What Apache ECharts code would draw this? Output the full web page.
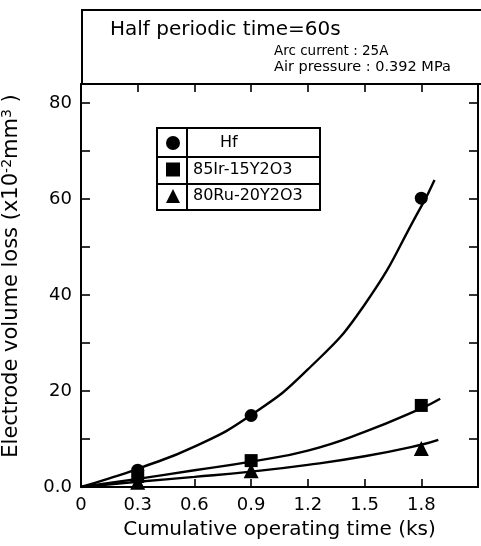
<!DOCTYPE html>
<html><head><meta charset="utf-8">
<script src="https://cdn.jsdelivr.net/npm/echarts@6/dist/echarts.min.js"></script>
<style>html,body{margin:0;padding:0;background:#fff}#c{width:481px;height:546px}</style>
</head><body><div id="c"></div>
<script>
// ---- data ----
const seriesNames = ['Hf', '85Ir-15Y2O3', '80Ru-20Y2O3'];
const pointX = [0.3, 0.9, 1.8];
const hfPoints = [3.5, 14.9, 60.2];
const irPoints = [2.2, 5.5, 17.0];
const ruPoints = [1.0, 3.4, 8.0];
const curveXHf = [0, 0.15, 0.3, 0.6, 0.9, 1.2, 1.5, 1.8, 1.87];
const curveYHf = [0, 1.8, 3.8, 8.4, 15, 24.5, 38, 58.5, 64];
const curveXIr = [0, 0.3, 0.6, 0.9, 1.2, 1.5, 1.8, 1.9];
const curveYIr = [0, 1.7, 3.5, 5.3, 7.6, 11.5, 16.4, 18.4];
const curveXRu = [0, 0.3, 0.6, 0.9, 1.2, 1.5, 1.8, 1.89];
const curveYRu = [0, 1.1, 2.1, 3.2, 4.6, 6.4, 8.8, 9.8];
const xTickLabels = ['0', '0.3', '0.6', '0.9', '1.2', '1.5', '1.8'];
const yTickLabels = ['0.0', '20', '40', '60', '80'];
const titleText = 'Half periodic time=60s';
const subText1 = 'Arc current : 25A';
const subText2 = 'Air pressure : 0.392 MPa';

const FONT = 'DejaVu Sans';
const zip = (xs, ys) => xs.map((x, i) => [x, ys[i]]);

const chart = echarts.init(document.getElementById('c'), null, {renderer: 'canvas'});
const axisLine = {show: true, onZero: false, lineStyle: {color: '#000', width: 2}};
const tickStyle = {color: '#000', width: 1.6};

const option = {
  backgroundColor: '#fff',
  animation: false,
  grid: {left: 81, right: 3, top: 84, bottom: 59, containLabel: false, outerBoundsMode: 'none'},
  xAxis: [{
    type: 'value', min: 0, max: 2.1, interval: 0.3, position: 'bottom',
    axisLine: axisLine,
    axisTick: {inside: true, length: 8, lineStyle: tickStyle},
    splitLine: {show: false},
    axisLabel: {
      margin: 9, color: '#000', fontFamily: FONT, fontSize: 18,
      formatter: v => { const i = Math.round(v / 0.3); return i < xTickLabels.length ? xTickLabels[i] : ''; }
    },
    name: 'Cumulative operating time (ks)', nameLocation: 'middle', nameGap: 33,
    nameTextStyle: {color: '#000', fontFamily: FONT, fontSize: 20}
  }, {
    type: 'value', min: 0, max: 2.1, interval: 0.3, position: 'top',
    axisLine: axisLine,
    axisTick: {inside: true, length: 8, lineStyle: tickStyle},
    axisLabel: {show: false}, splitLine: {show: false}
  }],
  yAxis: [{
    type: 'value', min: 0, max: 84, interval: 10, position: 'left',
    axisLine: axisLine,
    axisTick: {inside: true, length: 9, lineStyle: tickStyle},
    splitLine: {show: false},
    axisLabel: {
      margin: 9, color: '#000', fontFamily: FONT, fontSize: 18,
      formatter: v => (v % 20 === 0 && v / 20 < yTickLabels.length) ? yTickLabels[v / 20] : ''
    },
    name: 'Electrode volume loss (x10{sup|-2}mm{sup|3} )', nameLocation: 'middle', nameGap: 58,
    nameTextStyle: {
      color: '#000', fontFamily: FONT, fontSize: 21, padding: [0, 0, 0, 19],
      rich: {sup: {fontFamily: FONT, fontSize: 14, verticalAlign: 'top', padding: [0, 0, 9, 0], color: '#000'}}
    }
  }, {
    type: 'value', min: 0, max: 84, interval: 10, position: 'right',
    axisLine: axisLine,
    axisTick: {inside: true, length: 9, lineStyle: tickStyle},
    axisLabel: {show: false}, splitLine: {show: false}
  }],
  legend: {
    orient: 'vertical', left: 166, top: 133, padding: 0,
    itemWidth: 14, itemHeight: 14, itemGap: 6.5,
    textStyle: {color: '#000', fontFamily: FONT, fontSize: 16, lineHeight: 20, padding: [0, 0, 0, 8]},
    data: [
      {name: seriesNames[0], icon: 'circle', textStyle: {padding: [0, 0, 0, 35]}},
      {name: seriesNames[1], icon: 'rect'},
      {name: seriesNames[2], icon: 'triangle'}
    ]
  },
  graphic: [
    {type: 'rect', shape: {x: 82, y: 10, width: 402, height: 74}, style: {fill: 'none', stroke: '#000', lineWidth: 2}, z: 10},
    {type: 'text', x: 110, y: 30, style: {text: titleText, fontFamily: FONT, fontSize: 20, fill: '#000', textVerticalAlign: 'middle'}, z: 10},
    {type: 'text', x: 274, y: 51, style: {text: subText1, fontFamily: FONT, fontSize: 13.5, fill: '#000', textVerticalAlign: 'middle'}, z: 10},
    {type: 'text', x: 274, y: 67, style: {text: subText2, fontFamily: FONT, fontSize: 14.5, fill: '#000', textVerticalAlign: 'middle'}, z: 10},
    {type: 'rect', shape: {x: 157, y: 128, width: 163, height: 82}, style: {fill: 'none', stroke: '#000', lineWidth: 2}, z: 10},
    {type: 'line', shape: {x1: 157, y1: 157, x2: 320, y2: 157}, style: {stroke: '#000', lineWidth: 2}, z: 10},
    {type: 'line', shape: {x1: 157, y1: 184, x2: 320, y2: 184}, style: {stroke: '#000', lineWidth: 2}, z: 10},
    {type: 'line', shape: {x1: 187, y1: 128, x2: 187, y2: 210}, style: {stroke: '#000', lineWidth: 2}, z: 10}
  ],
  series: [
    {name: seriesNames[0], type: 'scatter', symbol: 'circle', symbolSize: 13, itemStyle: {color: '#000', opacity: 1}, data: zip(pointX, hfPoints), z: 5},
    {name: seriesNames[1], type: 'scatter', symbol: 'rect', symbolSize: 13, itemStyle: {color: '#000', opacity: 1}, data: zip(pointX, irPoints), z: 5},
    {name: seriesNames[2], type: 'scatter', symbol: 'triangle', symbolSize: 15, itemStyle: {color: '#000', opacity: 1}, data: zip(pointX, ruPoints), z: 5},
    {name: 'fitHf', type: 'line', smooth: 0.5, showSymbol: false, lineStyle: {color: '#000', width: 2.4}, data: zip(curveXHf, curveYHf), z: 4},
    {name: 'fitIr', type: 'line', smooth: 0.5, showSymbol: false, lineStyle: {color: '#000', width: 2.4}, data: zip(curveXIr, curveYIr), z: 4},
    {name: 'fitRu', type: 'line', smooth: 0.5, showSymbol: false, lineStyle: {color: '#000', width: 2.4}, data: zip(curveXRu, curveYRu), z: 4}
  ]
};
chart.setOption(option);
</script>
</body></html>
